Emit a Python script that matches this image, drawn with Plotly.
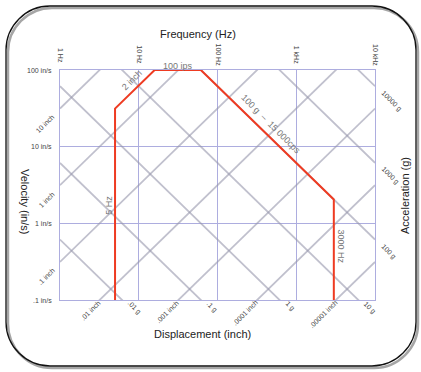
import numpy as np
import plotly.graph_objects as go

# ---------------- data ----------------
freq_ticks = [1, 10, 100, 1000, 10000]
freq_labels = ["1 Hz", "10 Hz", "100 Hz", "1 kHz", "10 kHz"]
vel_ticks = [0.1, 1, 10, 100]
vel_labels = [".1 in/s", "1 in/s", "10 in/s", "100 in/s"]
disp_values = [10, 1, 0.1, 0.01, 0.001, 0.0001, 0.00001]          # inch (peak-to-peak)
disp_labels = ["10 inch", "1 inch", ".1 inch", ".01 inch", ".001 inch", ".0001 inch", ".00001 inch"]
acc_values = [0.01, 0.1, 1, 10, 100, 1000, 10000]                  # g
acc_labels = [".01 g", ".1 g", "1 g", "10 g", "100 g", "1000 g", "10000 g"]

# test profile
prof_f_low = 5          # Hz
prof_disp = 2           # inch p-p
prof_vel = 100          # in/s
prof_acc = 100          # g
prof_f_high = 3000      # Hz

G = 386.09
FMIN, FMAX = 1, 10000
VMIN, VMAX = 0.1, 100

W, H = 421, 372
def px(x):
    return x / W
def py(y):
    return 1 - y / H

fig = go.Figure()

GRID_DIAG = "rgba(150,150,172,0.6)"
GRID = "#adaddf"

# displacement lines: V = pi * f * D
f = np.logspace(0, 4, 200)
for D in disp_values:
    fig.add_trace(go.Scatter(x=f, y=np.pi * f * D, mode="lines",
                             line=dict(color=GRID_DIAG, width=1.8),
                             hoverinfo="skip", showlegend=False))
# acceleration lines: V = A*g / (2 pi f)
for A in acc_values:
    fig.add_trace(go.Scatter(x=f, y=A * G / (2 * np.pi * f), mode="lines",
                             line=dict(color=GRID_DIAG, width=1.8),
                             hoverinfo="skip", showlegend=False))

# profile
f1 = prof_vel / (np.pi * prof_disp)
f2 = prof_acc * G / (2 * np.pi * prof_vel)
pf = [prof_f_low, prof_f_low, f1, f2, prof_f_high, prof_f_high]
pv = [VMIN, np.pi * prof_f_low * prof_disp, prof_vel, prof_vel,
      prof_acc * G / (2 * np.pi * prof_f_high), VMIN]
fig.add_trace(go.Scatter(x=pf, y=pv, mode="lines",
                         line=dict(color="#ee3b22", width=2),
                         hoverinfo="skip", showlegend=False))

FONT = "Liberation Sans, Arial, sans-serif"
ann = []
small = dict(family=FONT, size=7, color="#444")

# frequency labels (top)
for fv, lab in zip(freq_ticks, freq_labels):
    ann.append(dict(x=np.log10(fv), y=py(55), xref="x", yref="paper", text=lab,
                    textangle=90, showarrow=False, font=small,
                    xanchor="center", yanchor="middle"))
# velocity labels (left)
for vv, lab in zip(vel_ticks, vel_labels):
    ann.append(dict(x=px(54), y=np.log10(vv), xref="paper", yref="y", text=lab,
                    showarrow=False, font=small, xanchor="right", yanchor="middle"))

# displacement labels
for D, lab in zip(disp_values, disp_labels):
    v_at_min = np.pi * FMIN * D
    if VMIN <= v_at_min <= VMAX:
        xx, yy = FMIN, v_at_min
        xs, ys = -1, -2
    else:
        xx, yy = VMIN / (np.pi * D), VMIN
        xs, ys = 5, 4
    ann.append(dict(x=np.log10(xx), y=np.log10(yy), text=lab, textangle=-45,
                    showarrow=False, font=small, xanchor="right", yanchor="top",
                    xshift=xs, yshift=ys))
# acceleration labels
for A, lab in zip(acc_values, acc_labels):
    v_at_max = A * G / (2 * np.pi * FMAX)
    if VMIN <= v_at_max <= VMAX:
        xx, yy = FMAX, v_at_max
        xs, ys = 2, 0
    else:
        xx, yy = A * G / (2 * np.pi * VMIN), VMIN
        xs, ys = 1, 3
    ann.append(dict(x=np.log10(xx), y=np.log10(yy), text=lab, textangle=45,
                    showarrow=False, font=small, xanchor="left", yanchor="top",
                    xshift=xs, yshift=ys))

# profile labels
lab_font = dict(family=FONT, size=9, color="#777")
fm = np.sqrt(prof_f_low * f1)
ann.append(dict(x=np.log10(fm * 1.1), y=np.log10(np.pi * fm * 1.1 * prof_disp), text="2 inch",
                textangle=-45, showarrow=False, font=lab_font, xshift=-6, yshift=6))
ann.append(dict(x=np.log10(np.sqrt(f1 * f2)), y=np.log10(prof_vel), text="100 ips",
                showarrow=False, font=lab_font, yanchor="bottom", yshift=-3))
fa = np.sqrt(f2 * prof_f_high) * 0.9
ann.append(dict(x=np.log10(fa), y=np.log10(prof_acc * G / (2 * np.pi * fa)),
                text="100 g  \u2013  15 000cps", textangle=45, showarrow=False,
                font=lab_font, xshift=7, yshift=7))
ann.append(dict(x=np.log10(prof_f_low), y=np.log10(1.7), text="5 Hz", textangle=-90,
                showarrow=False, font=lab_font, xanchor="right", xshift=1))
ann.append(dict(x=np.log10(prof_f_high), y=np.log10(0.5), text="3000 Hz", textangle=90,
                showarrow=False, font=lab_font, xanchor="left", xshift=0))

# axis titles
title_font = dict(family=FONT, size=11, color="#222")
ann.append(dict(x=px(198), y=py(34), xref="paper", yref="paper", text="Frequency (Hz)",
                showarrow=False, font=title_font, xanchor="center", yanchor="middle"))
ann.append(dict(x=px(202), y=py(334), xref="paper", yref="paper", text="Displacement (inch)",
                showarrow=False, font=title_font, xanchor="center", yanchor="middle"))
ann.append(dict(x=px(25), y=py(201), xref="paper", yref="paper", text="Velocity (in/s)",
                textangle=90, showarrow=False, font=title_font, xanchor="center", yanchor="middle"))
ann.append(dict(x=px(405), y=py(196), xref="paper", yref="paper", text="Acceleration (g)",
                textangle=-90, showarrow=False, font=title_font, xanchor="center", yanchor="middle"))

# rounded frame with shadow
def frame_path(x0, y0, x1, y1, r):
    k = 0.45
    pts = [
        f"M {px(x0 + r)},{py(y0)}",
        f"L {px(x1 - r)},{py(y0)}",
        f"C {px(x1 - r * k)},{py(y0)} {px(x1)},{py(y0 + r * k)} {px(x1)},{py(y0 + r)}",
        f"L {px(x1)},{py(y1 - r)}",
        f"C {px(x1)},{py(y1 - r * k)} {px(x1 - r * k)},{py(y1)} {px(x1 - r)},{py(y1)}",
        f"L {px(x0 + r)},{py(y1)}",
        f"C {px(x0 + r * k)},{py(y1)} {px(x0)},{py(y1 - r * k)} {px(x0)},{py(y1 - r)}",
        f"L {px(x0)},{py(y0 + r)}",
        f"C {px(x0)},{py(y0 + r * k)} {px(x0 + r * k)},{py(y0)} {px(x0 + r)},{py(y0)}",
        "Z",
    ]
    return " ".join(pts)

shapes = [
    dict(type="path", xref="paper", yref="paper", path=frame_path(8, 8, 418, 368, 44),
         line=dict(color="rgba(0,0,0,0.35)", width=2.5), layer="below"),
    dict(type="path", xref="paper", yref="paper", path=frame_path(6, 6, 416, 366, 44),
         line=dict(color="#111", width=1.3), layer="below"),
]

axis_common = dict(showticklabels=False, ticks="", showgrid=True, gridcolor=GRID,
                   gridwidth=1.3, zeroline=False, showline=True, mirror=True,
                   linecolor=GRID, linewidth=1.3, fixedrange=True)

fig.update_layout(
    width=W, height=H,
    margin=dict(l=0, r=0, t=0, b=0),
    paper_bgcolor="white", plot_bgcolor="white",
    showlegend=False,
    annotations=ann,
    shapes=shapes,
    xaxis=dict(type="log", range=[0, 4], domain=[px(60), px(375)],
               tickvals=freq_ticks, **axis_common),
    yaxis=dict(type="log", range=[-1, 2], domain=[py(300), py(70)],
               tickvals=vel_ticks, **axis_common),
)

fig.write_html("out.html")
